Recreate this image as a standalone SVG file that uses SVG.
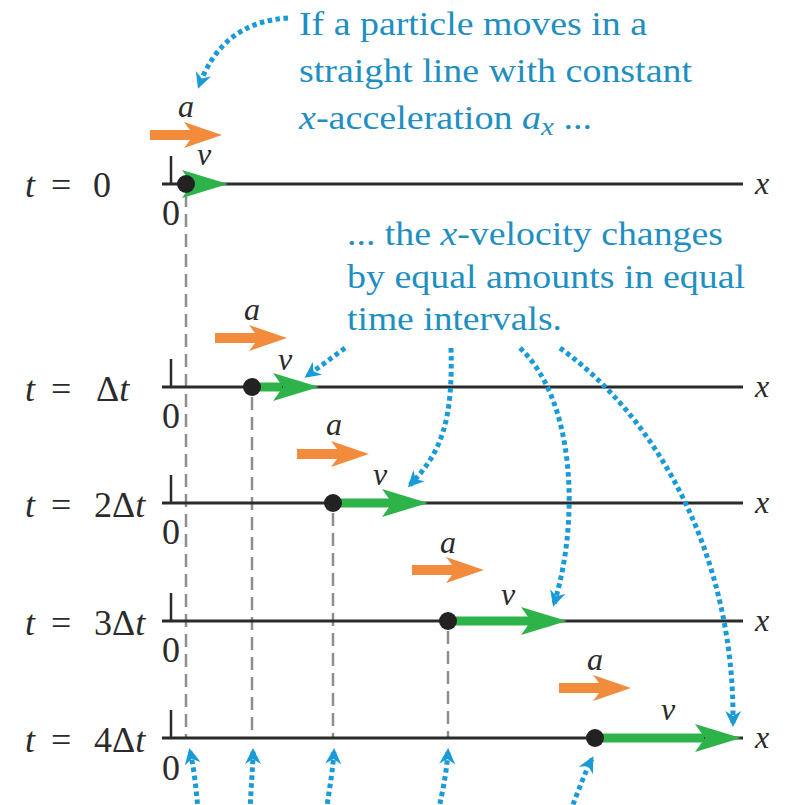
<svg xmlns="http://www.w3.org/2000/svg" width="792" height="805" viewBox="0 0 792 805" font-family="Liberation Serif, DejaVu Serif, serif">
<style>
.lbl{font-size:36px;fill:#2b2b2b}
.sm{font-size:32px}
.it{font-style:italic}
.note{font-size:33px;fill:#1f8fc2}
.axis{stroke:#2b2b2b;stroke-width:3;fill:none}
.tick{stroke:#2b2b2b;stroke-width:2.5;fill:none}
.dash{stroke:#8e8e8e;stroke-width:2.5;stroke-dasharray:13 7;fill:none}
.dot{stroke:#1a9bd7;stroke-width:5;stroke-dasharray:4.5 3.5;fill:none;marker-end:url(#bh)}
.shaft{stroke:#2db34a;stroke-width:9;fill:none}
.vh{fill:#2db34a}
.acc{fill:#f28c3c}
.pt{fill:#222}
</style>
<defs>
<marker id="bh" viewBox="-16 -10 20 20" refX="0" refY="0" markerWidth="20" markerHeight="20" markerUnits="userSpaceOnUse" orient="auto">
<path d="M3,0 L-13,-8 L-8,0 L-13,8 Z" fill="#1a9bd7"/>
</marker>
<path id="ahead" d="M0,0 L-46,-14 L-36,0 L-46,14 Z"/>
<path id="aarrow" d="M0,-5 L40,-5 L34,-13 L72,0 L34,13 L40,5 L0,5 Z"/>
</defs>

<g id="guides">
<line class="dash" x1="186" y1="194" x2="186" y2="738"/>
<line class="dash" x1="252" y1="397" x2="252" y2="738"/>
<line class="dash" x1="333" y1="513" x2="333" y2="738"/>
<line class="dash" x1="448" y1="631" x2="448" y2="738"/>
</g>

<g id="row-t0">
<line class="axis" x1="162" y1="184" x2="743" y2="184"/>
<line class="tick" x1="171" y1="156" x2="171" y2="184"/>
<text class="lbl" x="171" y="225" text-anchor="middle">0</text>
<text class="lbl sm it" x="755" y="194">x</text>
<text class="lbl" y="197"><tspan class="it" x="25">t</tspan><tspan x="51">=</tspan><tspan x="93">0</tspan></text>
<use href="#aarrow" class="acc" x="150" y="135"/>
<text class="lbl sm it" x="186" y="117" text-anchor="middle">a</text>
<use href="#ahead" class="vh" x="228" y="184"/>
<circle class="pt" cx="186" cy="184" r="9"/>
<text class="lbl sm it" x="204" y="165" text-anchor="middle">v</text>
</g>

<g id="row-t1">
<line class="axis" x1="162" y1="387" x2="743" y2="387"/>
<line class="tick" x1="171" y1="359" x2="171" y2="387"/>
<text class="lbl" x="171" y="428" text-anchor="middle">0</text>
<text class="lbl sm it" x="755" y="397">x</text>
<text class="lbl" y="401"><tspan class="it" x="25">t</tspan><tspan x="51">=</tspan><tspan x="96">Δ</tspan><tspan class="it">t</tspan></text>
<use href="#aarrow" class="acc" x="215" y="338"/>
<text class="lbl sm it" x="252" y="320" text-anchor="middle">a</text>
<line class="shaft" x1="252" y1="387" x2="282" y2="387"/>
<use href="#ahead" class="vh" x="319" y="387"/>
<circle class="pt" cx="252" cy="387" r="9"/>
<text class="lbl sm it" x="285" y="370" text-anchor="middle">v</text>
</g>

<g id="row-t2">
<line class="axis" x1="162" y1="503" x2="743" y2="503"/>
<line class="tick" x1="171" y1="475" x2="171" y2="503"/>
<text class="lbl" x="171" y="544" text-anchor="middle">0</text>
<text class="lbl sm it" x="755" y="513">x</text>
<text class="lbl" y="517"><tspan class="it" x="25">t</tspan><tspan x="51">=</tspan><tspan x="94">2Δ</tspan><tspan class="it">t</tspan></text>
<use href="#aarrow" class="acc" x="297" y="454"/>
<text class="lbl sm it" x="334" y="435" text-anchor="middle">a</text>
<line class="shaft" x1="333" y1="503" x2="392" y2="503"/>
<use href="#ahead" class="vh" x="428" y="503"/>
<circle class="pt" cx="333" cy="503" r="9"/>
<text class="lbl sm it" x="380" y="485" text-anchor="middle">v</text>
</g>

<g id="row-t3">
<line class="axis" x1="162" y1="621" x2="743" y2="621"/>
<line class="tick" x1="171" y1="593" x2="171" y2="621"/>
<text class="lbl" x="171" y="662" text-anchor="middle">0</text>
<text class="lbl sm it" x="755" y="631">x</text>
<text class="lbl" y="635"><tspan class="it" x="25">t</tspan><tspan x="51">=</tspan><tspan x="94">3Δ</tspan><tspan class="it">t</tspan></text>
<use href="#aarrow" class="acc" x="412" y="570"/>
<text class="lbl sm it" x="448" y="553" text-anchor="middle">a</text>
<line class="shaft" x1="448" y1="621" x2="531" y2="621"/>
<use href="#ahead" class="vh" x="567" y="621"/>
<circle class="pt" cx="448" cy="621" r="9"/>
<text class="lbl sm it" x="508" y="605" text-anchor="middle">v</text>
</g>

<g id="row-t4">
<line class="axis" x1="162" y1="738" x2="743" y2="738"/>
<line class="tick" x1="171" y1="710" x2="171" y2="738"/>
<text class="lbl" x="171" y="780" text-anchor="middle">0</text>
<text class="lbl sm it" x="755" y="748">x</text>
<text class="lbl" y="752"><tspan class="it" x="25">t</tspan><tspan x="51">=</tspan><tspan x="94">4Δ</tspan><tspan class="it">t</tspan></text>
<use href="#aarrow" class="acc" x="559" y="688"/>
<text class="lbl sm it" x="595" y="670" text-anchor="middle">a</text>
<line class="shaft" x1="595" y1="738" x2="704" y2="738"/>
<use href="#ahead" class="vh" x="741" y="738"/>
<circle class="pt" cx="595" cy="738" r="9"/>
<text class="lbl sm it" x="668" y="720" text-anchor="middle">v</text>
</g>

<g id="note-acceleration">
<text class="note" x="299" y="35" textLength="348" lengthAdjust="spacingAndGlyphs">If a particle moves in a</text>
<text class="note" x="299" y="82" textLength="393" lengthAdjust="spacingAndGlyphs">straight line with constant</text>
<text class="note" x="299" y="129" textLength="293" lengthAdjust="spacingAndGlyphs"><tspan class="it">x</tspan>-acceleration <tspan class="it">a</tspan><tspan class="it" dy="6" font-size="25">x</tspan><tspan dy="-6"> ...</tspan></text>
</g>

<g id="note-velocity">
<text class="note" x="347" y="245" textLength="376" lengthAdjust="spacingAndGlyphs">... the <tspan class="it">x</tspan>-velocity changes</text>
<text class="note" x="347" y="288" textLength="398" lengthAdjust="spacingAndGlyphs">by equal amounts in equal</text>
<text class="note" x="347" y="330" textLength="215" lengthAdjust="spacingAndGlyphs">time intervals.</text>
</g>

<g id="connectors">
<path class="dot" d="M288,18 Q222,22 199,86"/>
<path class="dot" d="M345,348 L307,376"/>
<path class="dot" d="M451,348 C453,420 442,452 410,485"/>
<path class="dot" d="M520,348 C575,400 580,520 554,604"/>
<path class="dot" d="M560,348 C660,420 735,560 733,724"/>
<path class="dot" d="M198,812 C196,782 193,765 190,751"/>
<path class="dot" d="M250,812 C251,785 253,768 253,751"/>
<path class="dot" d="M326,812 C330,786 333,768 334,751"/>
<path class="dot" d="M438,812 C444,786 447,768 448,751"/>
<path class="dot" d="M570,812 C578,792 585,772 592,759"/>
</g>
</svg>
